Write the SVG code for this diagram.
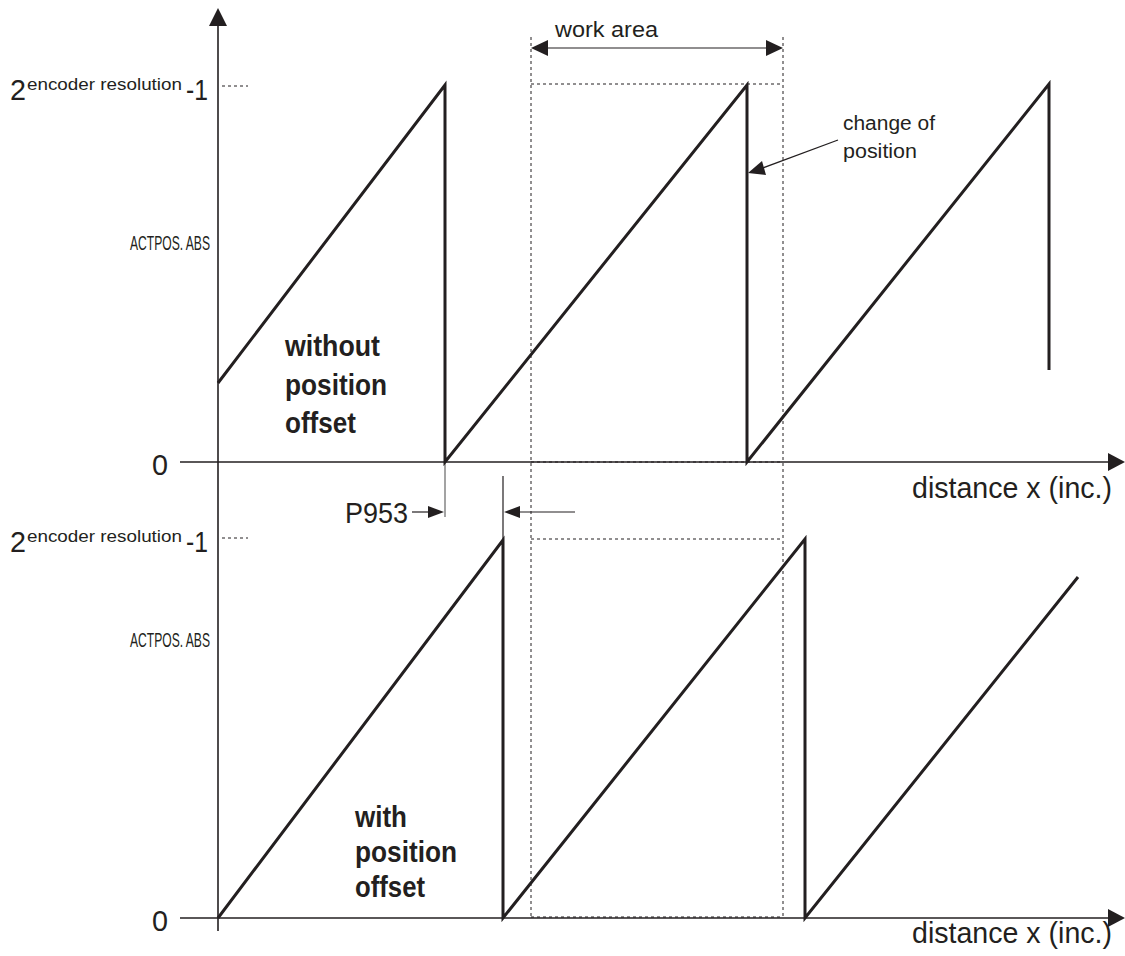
<svg xmlns="http://www.w3.org/2000/svg" width="1125" height="956" viewBox="0 0 1125 956">
<style>
text{font-family:"Liberation Sans Narrow","Liberation Sans",Arial,sans-serif;fill:#231f20}
.axis{stroke:#231f20;stroke-width:1.6;fill:none}
.saw{stroke:#231f20;stroke-width:3;fill:none;stroke-linejoin:miter}
.dot{stroke:#231f20;stroke-width:1;stroke-dasharray:3,3;fill:none}
.thin{stroke:#231f20;stroke-width:1.2;fill:none}
.big{font-size:30px}
.sup{font-size:17px}
.lbl{font-size:20px}
.act{font-size:21px}
.bold{font-size:29px;font-weight:bold}
.ah{fill:#231f20}
</style>
<g id="axes">
<line class="axis" x1="218" y1="20" x2="218" y2="931"/>
<polygon class="ah" points="218,8 209,26 227,26"/>
<line class="axis" x1="180" y1="462" x2="1112" y2="462"/>
<polygon class="ah" points="1125,462 1108,453 1108,471"/>
<line class="axis" x1="180" y1="918" x2="1112" y2="918"/>
<polygon class="ah" points="1125,918 1108,909 1108,927"/>
</g>
<g id="work-area">
<line class="dot" x1="531" y1="37" x2="531" y2="918"/>
<line class="dot" x1="783" y1="37" x2="783" y2="918"/>
<line class="dot" x1="531" y1="84" x2="783" y2="84"/>
<line class="dot" x1="531" y1="462" x2="783" y2="462"/>
<line class="dot" x1="531" y1="539" x2="783" y2="539"/>
<line class="dot" x1="531" y1="917" x2="783" y2="917"/>
<line class="dot" x1="222" y1="86" x2="248" y2="86"/>
<line class="dot" x1="222" y1="538" x2="248" y2="538"/>
</g>
<g id="connectors">
<line class="thin" x1="546" y1="48" x2="768" y2="48"/>
<polygon class="ah" points="531,48 548,40 548,56"/>
<polygon class="ah" points="783,48 766,40 766,56"/>
<line class="thin" x1="838" y1="140" x2="760" y2="169"/>
<polygon class="ah" points="748,173 762,161 766,175"/>
<line stroke="#666" stroke-width="1.2" x1="445" y1="462" x2="445" y2="517"/>
<line class="thin" x1="503" y1="476" x2="503" y2="540"/>
<line class="thin" x1="412" y1="512" x2="430" y2="512"/>
<polygon class="ah" points="444,512 428,506 428,518"/>
<line class="thin" x1="575" y1="512" x2="518" y2="512"/>
<polygon class="ah" points="504,512 520,506 520,518"/>
</g>
<g id="sawtooth-top">
<polyline class="saw" points="218,383 445,85 445,462 747,85 747,462 1049,84 1049,370"/>
</g>
<g id="sawtooth-bottom">
<polyline class="saw" points="218,918 503,540 503,918 805,539 805,918 1078,577"/>
</g>
<g id="labels-top">
<text class="big" x="10" y="100" textLength="16" lengthAdjust="spacingAndGlyphs">2</text>
<text class="sup" x="27" y="90" textLength="155" lengthAdjust="spacingAndGlyphs">encoder resolution</text>
<text class="big" x="186" y="100" textLength="22" lengthAdjust="spacingAndGlyphs">-1</text>
<text class="act" x="130" y="250" textLength="80" lengthAdjust="spacingAndGlyphs">ACTPOS. ABS</text>
<text class="big" x="152" y="475" textLength="16" lengthAdjust="spacingAndGlyphs">0</text>
<text class="bold" x="285" y="356" textLength="95" lengthAdjust="spacingAndGlyphs">without</text>
<text class="bold" x="285" y="395" textLength="102" lengthAdjust="spacingAndGlyphs">position</text>
<text class="bold" x="285" y="433" textLength="71" lengthAdjust="spacingAndGlyphs">offset</text>
<text class="big" x="912" y="498" textLength="200" lengthAdjust="spacingAndGlyphs">distance x (inc.)</text>
<text class="lbl" x="555" y="37" style="font-size:22px" textLength="103" lengthAdjust="spacingAndGlyphs">work area</text>
<text class="lbl" x="843" y="130" textLength="92" lengthAdjust="spacingAndGlyphs">change of</text>
<text class="lbl" x="843" y="158" textLength="74" lengthAdjust="spacingAndGlyphs">position</text>
<text class="big" x="345" y="523" textLength="63" lengthAdjust="spacingAndGlyphs">P953</text>
</g>
<g id="labels-bottom">
<text class="big" x="10" y="552" textLength="16" lengthAdjust="spacingAndGlyphs">2</text>
<text class="sup" x="27" y="542" textLength="155" lengthAdjust="spacingAndGlyphs">encoder resolution</text>
<text class="big" x="186" y="552" textLength="22" lengthAdjust="spacingAndGlyphs">-1</text>
<text class="act" x="130" y="647" textLength="80" lengthAdjust="spacingAndGlyphs">ACTPOS. ABS</text>
<text class="big" x="152" y="931" textLength="16" lengthAdjust="spacingAndGlyphs">0</text>
<text class="bold" x="355" y="827" textLength="52" lengthAdjust="spacingAndGlyphs">with</text>
<text class="bold" x="355" y="862" textLength="102" lengthAdjust="spacingAndGlyphs">position</text>
<text class="bold" x="355" y="897" textLength="70" lengthAdjust="spacingAndGlyphs">offset</text>
<text class="big" x="912" y="943" textLength="200" lengthAdjust="spacingAndGlyphs">distance x (inc.)</text>
</g>
</svg>
